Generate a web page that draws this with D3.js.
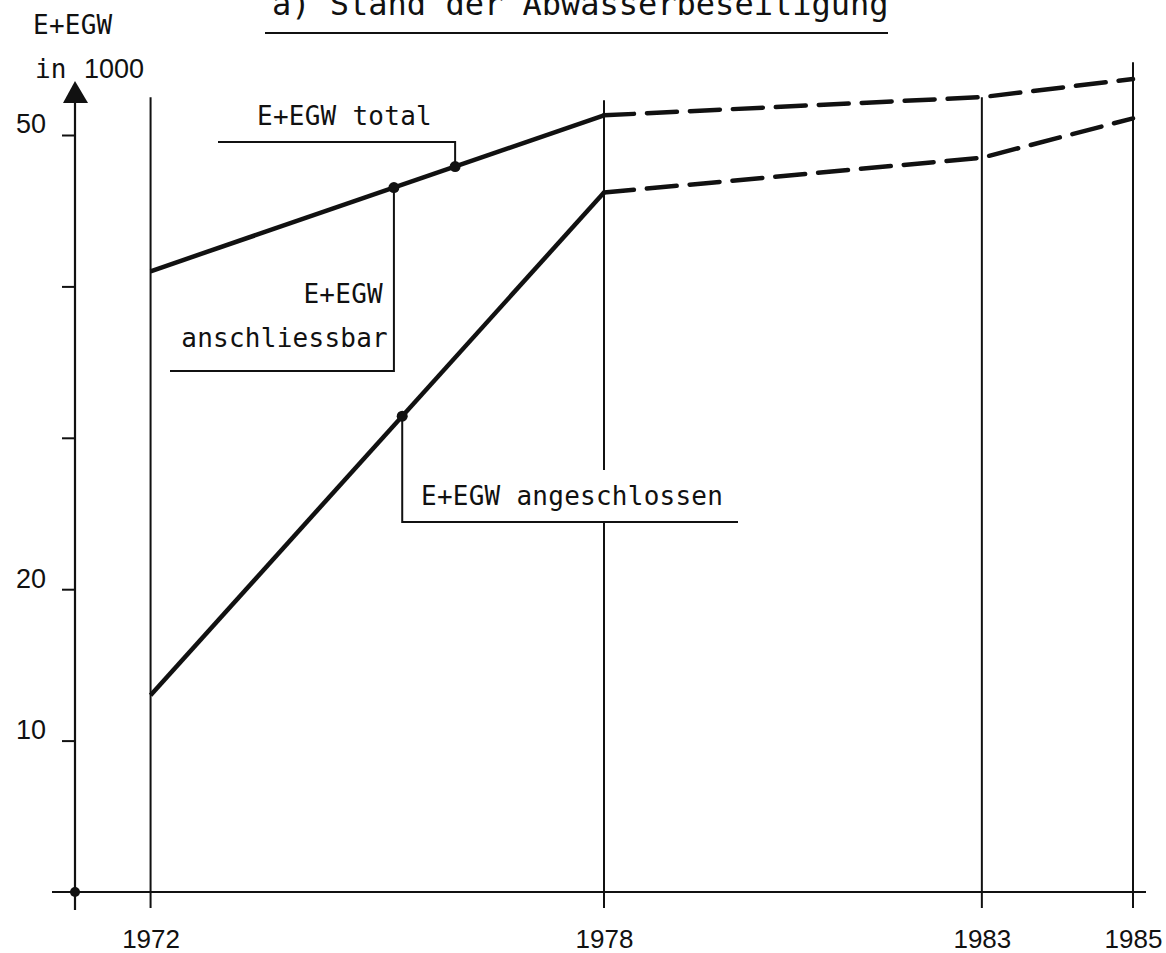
<!DOCTYPE html>
<html>
<head>
<meta charset="utf-8">
<script src="https://cdn.jsdelivr.net/npm/d3@7"></script>
<style>
  html, body { margin: 0; padding: 0; background: #fff; }
  svg { display: block; }
  .mono { font-family: "DejaVu Sans Mono", monospace; fill: #111; }
  .sans { font-family: "Liberation Sans", Arial, sans-serif; fill: #111; }
</style>
</head>
<body>
<svg id="chart" width="1166" height="953"></svg>
<script>
// ---------- data ----------
const years = [1972, 1978, 1983, 1985];
const totalValues = [41.0, 51.3, 52.5, 53.7];          // E+EGW total
const connectedValues = [13.0, 46.2, 48.5, 51.1];      // E+EGW angeschlossen
const yTickValues = [10, 20, 30, 40, 50];
const yTickLabels = ["10", "20", "", "", "50"];
const xTickLabels = ["1972", "1978", "1983", "1985"];
const gridTopValues = [52.5, 52.3, 52.5, 54.8];        // how high each year line reaches
const title = "a) Stand der Abwasserbeseitigung";
const labelTotal = "E+EGW total";
const labelReachable = ["E+EGW", "anschliessbar"];
const labelConnected = "E+EGW angeschlossen";
// annotation anchor years on the lines
const dotTotalYear = 1976.03;
const dotReachableYear = 1975.22;
const dotConnectedYear = 1975.33;

// ---------- scales ----------
const svg = d3.select("#chart");
const x = d3.scaleLinear().domain([1971, 1985]).range([75, 1133]);
const y = d3.scaleLinear().domain([0, 50]).range([892, 135]);
const ink = "#111";

function interp(vals, yr) {
  for (let i = 0; i < years.length - 1; i++) {
    if (yr >= years[i] && yr <= years[i + 1]) {
      const t = (yr - years[i]) / (years[i + 1] - years[i]);
      return vals[i] + t * (vals[i + 1] - vals[i]);
    }
  }
  return vals[vals.length - 1];
}

// ---------- title ----------
svg.append("text").attr("class", "mono").attr("x", 272).attr("y", 15)
  .style("font-size", "32px").text(title);
svg.append("line").attr("x1", 265).attr("x2", 888).attr("y1", 33).attr("y2", 33)
  .attr("stroke", ink).attr("stroke-width", 2);

// ---------- y axis ----------
const x0 = x(1971);
svg.append("line").attr("x1", x0).attr("x2", x0).attr("y1", 100).attr("y2", y(0) + 18)
  .attr("stroke", ink).attr("stroke-width", 2.2);
svg.append("path")
  .attr("d", `M${x0},81 L${x0 - 12},103 L${x0 + 13},103 Z`)
  .attr("fill", ink);

const yAxis = d3.axisLeft(y).tickValues(yTickValues)
  .tickFormat((d, i) => yTickLabels[i]).tickSize(14).tickPadding(16);
const yg = svg.append("g").attr("transform", `translate(${x0 + 1},0)`).call(yAxis);
yg.select(".domain").remove();
yg.selectAll(".tick line").attr("stroke", ink).attr("stroke-width", 2);
yg.selectAll(".tick text")
  .attr("class", "sans")
  .style("font-size", "27px")
  .attr("dy", "-0.08em")
  .attr("x", -30);

// y axis label
svg.append("text").attr("class", "mono").attr("x", 33).attr("y", 34)
  .style("font-size", "26px").style("letter-spacing", "0.25px").text("E+EGW");
svg.append("text").attr("class", "mono").attr("x", 35).attr("y", 78)
  .style("font-size", "26px").text("in");
svg.append("text").attr("class", "sans").attr("x", 84).attr("y", 78)
  .style("font-size", "27px").text("1000");

// ---------- x axis ----------
svg.append("line").attr("x1", 52).attr("x2", 1146).attr("y1", y(0)).attr("y2", y(0))
  .attr("stroke", ink).attr("stroke-width", 2.2);
svg.append("circle").attr("cx", x0).attr("cy", y(0)).attr("r", 5).attr("fill", ink);

const xAxis = d3.axisBottom(x).tickValues(years)
  .tickFormat((d, i) => xTickLabels[i]).tickSize(0).tickPadding(0);
const xg = svg.append("g").attr("transform", `translate(0,${y(0)})`).call(xAxis);
xg.select(".domain").remove();
xg.selectAll(".tick line").remove();
xg.selectAll(".tick text")
  .attr("class", "sans")
  .style("font-size", "26px")
  .attr("dy", 0)
  .attr("y", 56);

// ---------- year grid lines ----------
const gapTop = 470, gapBottom = 522;   // break around the label
years.forEach((yr, i) => {
  const gx = x(yr);
  const top = y(gridTopValues[i]);
  const bottom = y(0) + 16;
  if (yr === 1978) {
    svg.append("line").attr("x1", gx).attr("x2", gx).attr("y1", top).attr("y2", gapTop)
      .attr("stroke", ink).attr("stroke-width", 2);
    svg.append("line").attr("x1", gx).attr("x2", gx).attr("y1", gapBottom).attr("y2", bottom)
      .attr("stroke", ink).attr("stroke-width", 2);
  } else {
    svg.append("line").attr("x1", gx).attr("x2", gx).attr("y1", top).attr("y2", bottom)
      .attr("stroke", ink).attr("stroke-width", 2);
  }
});

// ---------- series lines ----------
const line = d3.line().x(d => x(d[0])).y(d => y(d[1]));
function drawSeries(vals) {
  const pts = years.map((yr, i) => [yr, vals[i]]);
  const solid = pts.filter(p => p[0] <= 1978);
  const dashed = pts.filter(p => p[0] >= 1978);
  svg.append("path").attr("d", line(solid)).attr("fill", "none")
    .attr("stroke", ink).attr("stroke-width", 4.5).attr("stroke-linejoin", "round");
  svg.append("path").attr("d", line(dashed)).attr("fill", "none")
    .attr("stroke", ink).attr("stroke-width", 4.5)
    .attr("stroke-dasharray", "30 13").attr("stroke-linecap", "round");
}
drawSeries(totalValues);
drawSeries(connectedValues);

// ---------- annotations ----------
const fontMono = "26px";
// E+EGW total
const tX = x(dotTotalYear), tY = y(interp(totalValues, dotTotalYear));
svg.append("path").attr("d", `M218,142 H${tX} V${tY}`)
  .attr("fill", "none").attr("stroke", ink).attr("stroke-width", 2);
svg.append("circle").attr("cx", tX).attr("cy", tY).attr("r", 5.5).attr("fill", ink);
svg.append("text").attr("class", "mono").attr("x", 257).attr("y", 125)
  .style("font-size", fontMono).style("letter-spacing", "0.25px").text(labelTotal);

// E+EGW anschliessbar
const rX = x(dotReachableYear), rY = y(interp(totalValues, dotReachableYear));
svg.append("path").attr("d", `M${rX},${rY} V371 H170`)
  .attr("fill", "none").attr("stroke", ink).attr("stroke-width", 2);
svg.append("circle").attr("cx", rX).attr("cy", rY).attr("r", 5.5).attr("fill", ink);
svg.append("text").attr("class", "mono").attr("x", 383).attr("y", 303)
  .attr("text-anchor", "end")
  .style("font-size", fontMono).style("letter-spacing", "0.25px").text(labelReachable[0]);
svg.append("text").attr("class", "mono").attr("x", 388).attr("y", 347)
  .attr("text-anchor", "end")
  .style("font-size", fontMono).style("letter-spacing", "0.25px").text(labelReachable[1]);

// E+EGW angeschlossen
const cX = x(dotConnectedYear), cY = y(interp(connectedValues, dotConnectedYear));
svg.append("path").attr("d", `M${cX},${cY} V522 H738`)
  .attr("fill", "none").attr("stroke", ink).attr("stroke-width", 2);
svg.append("circle").attr("cx", cX).attr("cy", cY).attr("r", 5.5).attr("fill", ink);
svg.append("text").attr("class", "mono").attr("x", 421).attr("y", 505)
  .style("font-size", fontMono).style("letter-spacing", "0.25px").text(labelConnected);
</script>
</body>
</html>
